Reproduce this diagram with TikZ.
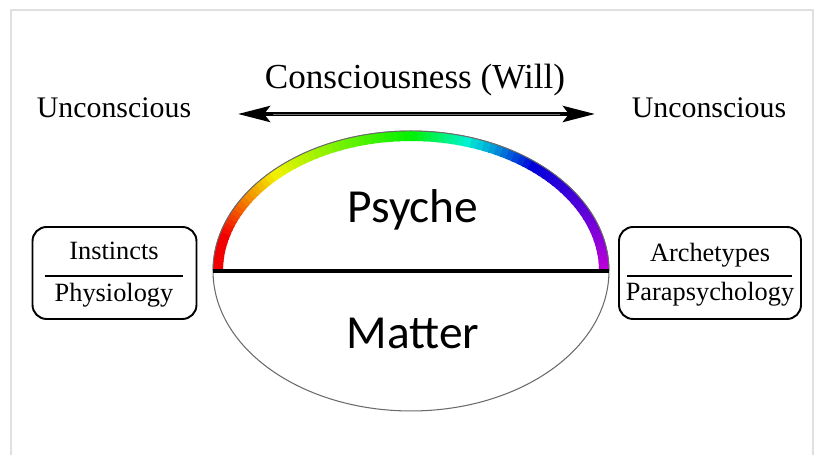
\documentclass[tikz,border=0pt]{standalone}
\usepackage{fontspec}
\setmainfont{Liberation Serif}
\newfontfamily\psyfont{Carlito}
\usetikzlibrary{arrows.meta,positioning,shapes.geometric,calc}
\definecolor{frame}{HTML}{E0E0E0}
\definecolor{rim}{HTML}{6A6A6A}
\tikzset{
  label/.style={anchor=base,inner sep=0pt,font=\fontsize{17}{20}\selectfont},
  boxtext/.style={anchor=base,inner sep=0pt,font=\fontsize{15}{18}\selectfont},
  bigword/.style={anchor=base,inner sep=0pt,font=\psyfont\fontsize{27}{31}\selectfont},
  sidebox/.style={rectangle,rounded corners=8,draw=black,line width=1.1pt,minimum height=1.84cm},
  divider/.style={black,line width=1.7pt},
  willarrow/.style={{Stealth[length=0.64cm,width=0.32cm,inset=0.12cm]}-{Stealth[length=0.64cm,width=0.32cm,inset=0.12cm]},line width=2.6pt}
}
\begin{document}
\begin{tikzpicture}[x=0.02cm,y=-0.02cm]
        \useasboundingbox (0,0) rectangle (815,455);
        % light frame round the picture
        \draw[frame,line width=1.2pt] (11,455) -- (11,10) -- (813,10) -- (813,455);

        % top labels and arrow
        \node[label,font=\fontsize{20}{24}\selectfont] (will) at (415,89) {Consciousness (Will)};
        \node[label] (uncl) at (114,118) {Unconscious};
        \node[label] (uncr) at (709,118) {Unconscious};
        \coordinate (arrl) at (238,114);
        \coordinate (arrr) at (595,114);
        \draw[willarrow] (arrl) -- (arrr);
        \draw[black!55,line width=0.5pt,shorten <=0.7cm,shorten >=0.7cm] (arrl) -- (arrr);

        % the egg
        \node[ellipse,draw=rim,line width=0.6pt,inner sep=0pt,minimum width=7.92cm,minimum height=5.6cm] (egg) at (411,271) {};
        \foreach \a in {0,...,89}{
          \pgfmathsetmacro\s{\a/89}
          \pgfmathsetmacro\h{\s<0.08 ? 0 : (\s<0.25 ? (\s-0.08)/0.17*60 : (\s<0.5 ? 60+(\s-0.25)/0.25*60 : (\s<0.72 ? 120+(\s-0.5)/0.22*120 : 240+(\s-0.72)/0.28*52)))}
          \pgfmathsetmacro\b{\s<0.6 ? 0.95 : 0.85}
          \pgfmathsetmacro\t{180+2*\a}
          \pgfmathsetmacro\e{min(\t+2.6,360)}
          \definecolor{rb}{Hsb}{\h,1,\b}
          \draw[rb,line width=0.2cm] (egg.center) ++(\t:193 and 135) arc[start angle=\t,end angle=\e,x radius=193,y radius=135];
        }
        \draw[rim,line width=0.5pt] (egg.center) ++(180:198 and 140) arc[start angle=180,end angle=360,x radius=198,y radius=140];
        \draw[divider,line width=2.2pt] (egg.west) -- (egg.east);
        \node[bigword] (psyche) at (413,223) {Psyche};
        \node[bigword] (matter) at (413,349) {Matter};

        % side boxes
        \node[sidebox,minimum width=3.28cm] (instbox) at (114.5,273) {};
        \node[boxtext] (inst) at (114,260) {Instincts};
        \node[boxtext] (phys) at (114,302) {Physiology};
        \draw[divider] ($(instbox.west)+(13,3)$) -- ($(instbox.east)+(-14,3)$);

        \node[sidebox,minimum width=3.64cm] (archbox) at (710,273) {};
        \node[boxtext] (arch) at (710,262) {Archetypes};
        \node[boxtext] (para) at (710,301) {Parapsychology};
        \draw[divider] ($(archbox.west)+(9,3)$) -- ($(archbox.east)+(-10,3)$);
      \end{tikzpicture}
\end{document}
